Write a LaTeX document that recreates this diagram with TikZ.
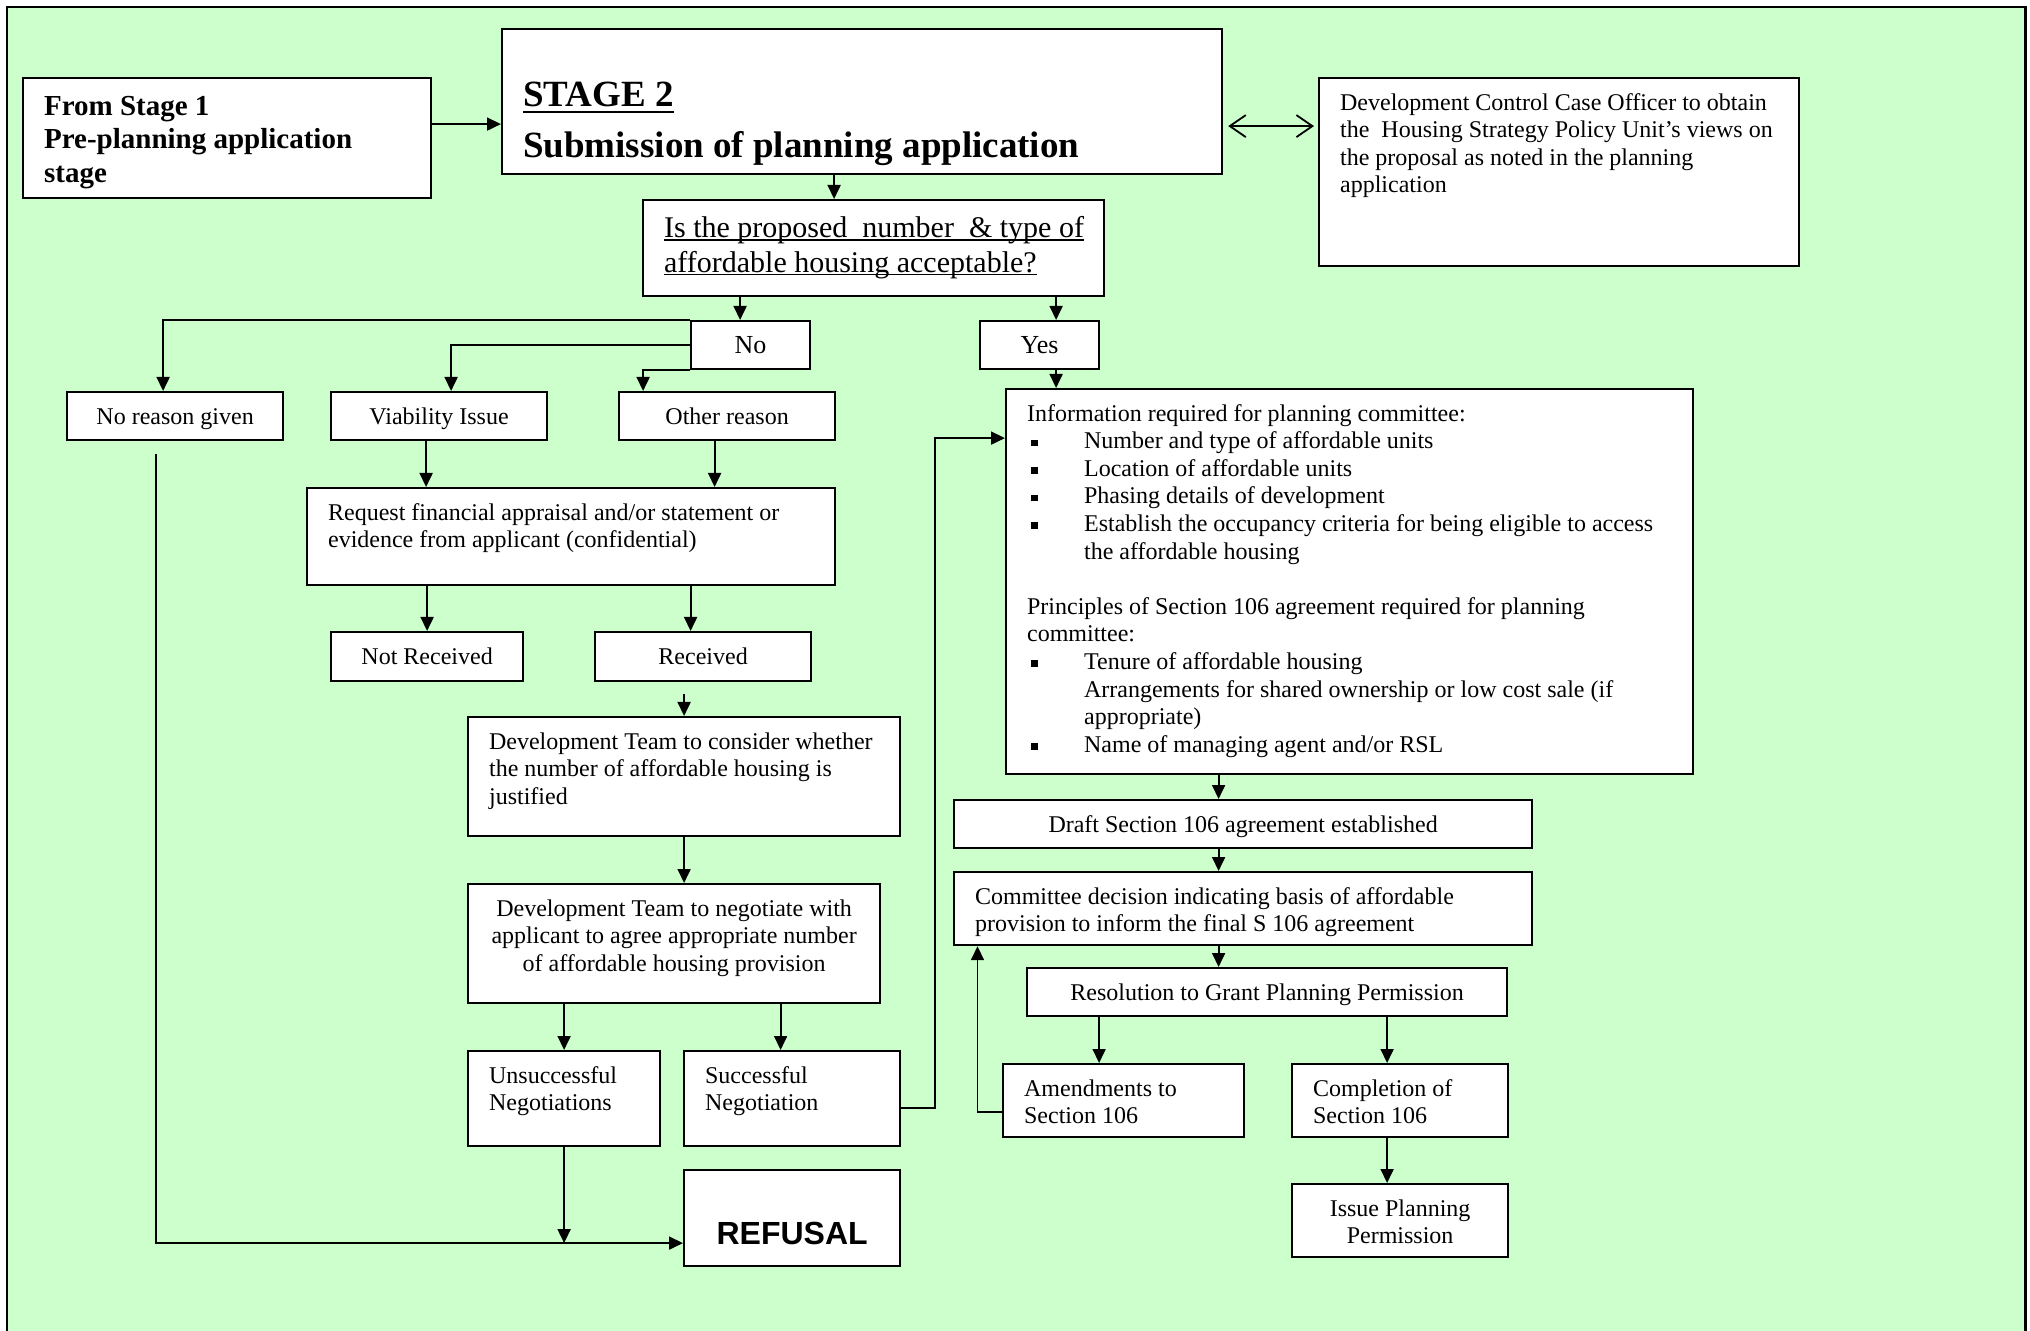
\documentclass[tikz,border=0pt]{standalone}
\usepackage{fontspec}
\setmainfont{Liberation Serif}
\setsansfont{Liberation Sans}
\usepackage{xcolor}
\usepackage{tikz}
\usetikzlibrary{arrows.meta}

\definecolor{bggreen}{RGB}{204,255,204}
\newcommand{\sqitem}{\hspace*{2pt}\makebox[26.5pt][l]{\rule[1.2pt]{3.3pt}{3.3pt}}}
\newlength{\ulwidth}
\newcommand{\ultext}[3]{\settowidth{\ulwidth}{#3}\rlap{\rule[-#1]{\ulwidth}{#2}}#3}

\begin{document}
\begin{tikzpicture}[
  x=0.5pt, y=-0.5pt,
  font=\fontsize{12pt}{13.8pt}\selectfont,
  box/.style={draw, line width=1.1pt, fill=white, inner sep=0pt, anchor=north west},
  sbox/.style 2 args={box, minimum width=#1, minimum height=#2, text height=10pt, text depth=2pt},
  tboxp/.style n args={3}{box, minimum width=#1, minimum height=#2,
    execute at begin node={\begin{minipage}[c][\dimexpr#2-#3-#3\relax][t]{\dimexpr#1-21pt\relax}\raggedright\strut},
    execute at end node={\end{minipage}}},
  tbox/.style 2 args={tboxp={#1}{#2}{6.3pt}},
  arr/.style={-{Triangle[length=7pt,width=6.5pt]}, line width=0.9pt},
  dbl/.style={{Straight Barb[length=8pt,width=11pt]}-{Straight Barb[length=8pt,width=11pt]}, line width=0.9pt}
]
\useasboundingbox (0,0) rectangle (2030,1331);
\fill[bggreen] (8,8) rectangle (2025,1331);
\draw[line width=1.3pt] (7,1331) |- (2025.5,7) -- (2025.5,1331);

\node[tboxp={204pt}{60pt}{6.9pt}, font=\bfseries\fontsize{14.5pt}{16.7pt}\selectfont] (stageone) at (22,77) {From Stage 1\\Pre-planning application\\stage};
\node[tboxp={360pt}{72.5pt}{23.6pt}, font=\bfseries\fontsize{18.5pt}{21.3pt}\selectfont] (stagetwo) at (501,28)
  {\ultext{3.4pt}{1.1pt}{STAGE 2}\\[4.2pt]Submission of planning application};
\node[tbox={240pt}{94pt}] (dc) at (1318,77) {Development Control Case Officer to obtain\\the\ \ Housing Strategy Policy Unit’s views on\\the proposal as noted in the planning\\application};
\node[tboxp={230.5pt}{48pt}{6.8pt}, font=\fontsize{15pt}{17.25pt}\selectfont] (question) at (642,199)
  {\mbox{\ultext{1.4pt}{0.6pt}{Is the proposed\ \ number\ \ \& type of}}\\\mbox{\ultext{1.4pt}{0.6pt}{affordable housing acceptable?}}};
\node[sbox={59.5pt}{24pt}, font=\fontsize{13pt}{15pt}\selectfont] (no) at (690,320) {No};
\node[sbox={59.5pt}{24pt}, font=\fontsize{13pt}{15pt}\selectfont] (yes) at (979,320) {Yes};
\node[sbox={108pt}{24pt}] (noreason) at (66,391) {No reason given};
\node[sbox={108pt}{24pt}] (viability) at (330,391) {Viability Issue};
\node[sbox={108pt}{24pt}] (other) at (618,391) {Other reason};
\node[tbox={264pt}{48.5pt}] (request) at (306,487) {Request financial appraisal and/or statement or\\evidence from applicant (confidential)};
\node[sbox={96pt}{24.5pt}] (notreceived) at (330,631) {Not Received};
\node[sbox={108pt}{24.5pt}] (received) at (594,631) {Received};
\node[tbox={216pt}{59.5pt}] (consider) at (467,716) {Development Team to consider whether\\the number of affordable housing is\\justified};
\node[tbox={206pt}{59.5pt}] (negotiate) at (467,883) {\centering Development Team to negotiate with\\applicant to agree appropriate number\\of affordable housing provision\par};
\node[tbox={96pt}{47.5pt}] (unsuccessful) at (467,1050) {Unsuccessful\\Negotiations};
\node[tbox={108pt}{47.5pt}] (successful) at (683,1050) {Successful\\Negotiation};
\node[box, minimum width=108pt, text height=37pt, text depth=11pt,
  font=\sffamily\bfseries\fontsize{16pt}{19pt}\selectfont] (refusal) at (683,1169) {REFUSAL};
\node[tbox={343.5pt}{192.5pt}] (info) at (1005,388) {Information required for planning committee:\\
\sqitem Number and type of affordable units\\
\sqitem Location of affordable units\\
\sqitem Phasing details of development\\
\sqitem Establish the occupancy criteria for being eligible to access\\
\hspace*{28.5pt}the affordable housing\\[13.8pt]
Principles of Section 106 agreement required for planning\\
committee:\\
\sqitem Tenure of affordable housing\\
\hspace*{28.5pt}Arrangements for shared ownership or low cost sale (if\\
\hspace*{28.5pt}appropriate)\\
\sqitem Name of managing agent and/or RSL};
\node[sbox={289pt}{24pt}] (draft) at (953,799) {Draft Section 106 agreement established};
\node[tbox={289pt}{36.5pt}] (committee) at (953,871) {Committee decision indicating basis of affordable\\provision to inform the final S 106 agreement};
\node[sbox={240pt}{24pt}] (resolution) at (1026,967) {Resolution to Grant Planning Permission};
\node[tbox={120.5pt}{36.5pt}] (amendments) at (1002,1063) {Amendments to\\Section 106};
\node[tbox={108pt}{36.5pt}] (completion) at (1291,1063) {Completion of\\Section 106};
\node[tbox={108pt}{36.5pt}] (issue) at (1291,1183) {\centering Issue Planning\\Permission\par};

\coordinate (refin) at ([yshift=-12.5pt]refusal.west);

\draw[arr] ([yshift=7pt]stageone.east) -- ([yshift=7pt]stageone.east -| stagetwo.west);
\draw[dbl, shorten <=2.5pt, shorten >=2pt] ([yshift=-12.25pt]stagetwo.east) -- ([yshift=-12.25pt]stagetwo.east -| dc.west);
\draw[arr] ([xshift=-14pt]stagetwo.south) -- ([xshift=-14pt]stagetwo.south |- question.north);
\draw[arr] ([xshift=-5.25pt]no.north |- question.south) -- ([xshift=-5.25pt]no.north);
\draw[arr] ([xshift=8.25pt]yes.north |- question.south) -- ([xshift=8.25pt]yes.north);
\draw[arr] ([xshift=8.25pt]yes.south) -- ([xshift=8.25pt]yes.south |- info.north);
\draw[arr] (no.north west) -| ([xshift=-6pt]noreason.north);
\draw[arr] (no.west) -| ([xshift=6pt]viability.north);
\draw[arr] (no.south west) -| ([xshift=-42pt]other.north);
\draw[arr] ([xshift=-6.5pt]viability.south) -- ([xshift=-6.5pt]viability.south |- request.north);
\draw[arr] ([xshift=-6.25pt]other.south) -- ([xshift=-6.25pt]other.south |- request.north);
\draw[arr] (notreceived.north |- request.south) -- (notreceived.north);
\draw[arr] ([xshift=-6.25pt]received.north |- request.south) -- ([xshift=-6.25pt]received.north);
\draw[arr] ([yshift=-6pt]consider.north |- received.south) -- (consider.north);
\draw[arr] (consider.south) -- (consider.south |- negotiate.north);
\draw[arr] (unsuccessful.north |- negotiate.south) -- (unsuccessful.north);
\draw[arr] ([xshift=-5.75pt]successful.north |- negotiate.south) -- ([xshift=-5.75pt]successful.north);
\draw[arr] ([yshift=-4.75pt]successful.east) -- ++(17pt,0) |- ([yshift=71.75pt]info.west);
\draw[arr] (unsuccessful.south) -- (unsuccessful.south |- refin);
\draw[arr] ([xshift=-9.5pt,yshift=-6.5pt]noreason.south) |- (refin);
\draw[arr] ([xshift=-12.25pt]draft.north |- info.south) -- ([xshift=-12.25pt]draft.north);
\draw[arr] ([xshift=-12.25pt]draft.south) -- ([xshift=-12.25pt]committee.north);
\draw[arr] ([xshift=-12.25pt]committee.south) -- ([xshift=-12.25pt]committee.south |- resolution.north);
\draw[arr] ([xshift=-12.25pt]amendments.north |- resolution.south) -- ([xshift=-12.25pt]amendments.north);
\draw[arr] ([xshift=-6.5pt]completion.north |- resolution.south) -- ([xshift=-6.5pt]completion.north);
\draw[arr] ([yshift=-5.75pt]amendments.west) -| ([xshift=12.25pt]committee.south west);
\draw[arr] ([xshift=-6.5pt]completion.south) -- ([xshift=-6.5pt]issue.north);
\end{tikzpicture}
\end{document}
